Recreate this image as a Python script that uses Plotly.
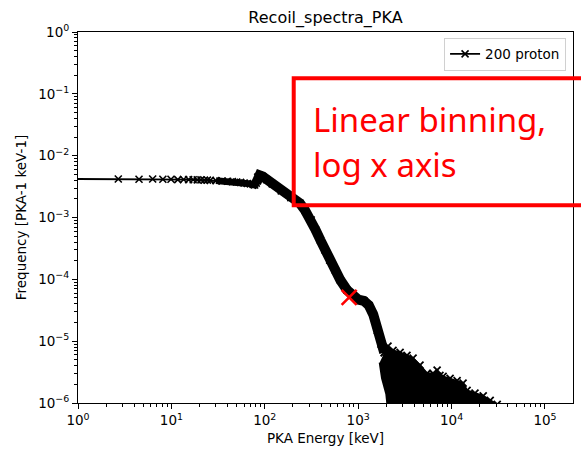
import plotly.graph_objects as go

# --- PKA recoil spectrum, 200 proton run (linear energy bins, 1.8 keV wide) ---
# Low-energy bins: individual bin centres are resolved on the log axis
low_energy_kev = [0.9, 2.7, 4.5, 6.3, 8.1, 9.9, 11.7, 13.5, 15.3, 17.1, 18.9,
                  20.7, 22.5, 24.3, 26.1]
low_freq = [4.2e-3, 4.2e-3, 4.15e-3, 4.2e-3, 4.15e-3, 4.15e-3, 4.1e-3, 4.12e-3,
            4.1e-3, 4.08e-3, 4.05e-3, 4.05e-3, 4.0e-3, 4.02e-3, 3.98e-3]

# Higher-energy bins: densely packed on the log axis, so they merge into a band
dense_energy_kev = [30, 35, 40, 45, 50, 55, 60, 65, 70, 75, 78, 81, 84, 88, 95,
                    105, 120, 150, 190, 238, 270, 314, 350, 394, 440, 495, 570,
                    645, 760, 850, 1000, 1150, 1300, 1450, 1600, 1750, 1900]
dense_freq = [3.95e-3, 3.9e-3, 3.85e-3, 3.8e-3, 3.75e-3, 3.7e-3, 3.62e-3, 3.55e-3,
              3.5e-3, 3.42e-3, 3.35e-3, 3.6e-3, 4.5e-3, 4.8e-3, 4.6e-3, 4.1e-3,
              3.5e-3, 2.7e-3, 2.1e-3, 1.7e-3, 1.3e-3, 9.1e-4, 6.3e-4, 4.3e-4,
              3.0e-4, 2.04e-4, 1.4e-4, 9.7e-5, 6.7e-5, 5.5e-5, 4.7e-5, 4.5e-5,
              3.8e-5, 2.7e-5, 1.5e-5, 9e-6, 6.5e-6]

# Statistical tail: upper envelope of the noisy bins (many bins are empty)
tail_energy_kev = [1900, 2085, 2360, 2810, 3330, 3870, 4590, 5460, 6330, 7000,
                   7500, 8110, 9640, 11460, 13280, 14650, 17800, 21800, 25900, 30800]
tail_upper = [6.5e-6, 8.3e-6, 7.1e-6, 6.6e-6, 5.9e-6, 5.3e-6, 4.1e-6, 3.0e-6,
              3.0e-6, 3.4e-6, 2.8e-6, 2.7e-6, 2.5e-6, 2.3e-6, 2.1e-6, 1.6e-6,
              1.45e-6, 1.3e-6, 1.1e-6, 0.95e-6]
# lower edge of the tail, where bins start dropping to zero counts
tail_lower_kev = [30800, 2400, 2000, 1800, 1700]
tail_lower = [1e-7, 1e-7, 1.4e-6, 2.5e-6, 4.5e-6]

# Highlighted bin
highlight_kev = [800]
highlight_freq = [5.1e-5]

series_name = "200 proton"

x_tickvals = [1, 10, 100, 1e3, 1e4, 1e5]
x_ticktext = ["10<sup>0</sup>", "10<sup>1</sup>", "10<sup>2</sup>",
              "10<sup>3</sup>", "10<sup>4</sup>", "10<sup>5</sup>"]
y_tickvals = [1e-6, 1e-5, 1e-4, 1e-3, 1e-2, 1e-1, 1]
y_ticktext = ["10<sup>\u22126</sup>", "10<sup>\u22125</sup>", "10<sup>\u22124</sup>",
              "10<sup>\u22123</sup>", "10<sup>\u22122</sup>", "10<sup>\u22121</sup>",
              "10<sup>0</sup>"]

x_minor = [m * 10 ** e for e in range(0, 6) for m in range(2, 10)]
y_minor = [m * 10.0 ** e for e in range(-6, 0) for m in range(2, 10)]

FONT = "DejaVu Sans"

fig = go.Figure()

# overplotted markers of the dense bins, rendered as a band:
# narrower on the flat plateau, wider where the spectrum falls steeply
split = 12
fig.add_trace(go.Scatter(
    x=dense_energy_kev[:split + 1], y=dense_freq[:split + 1], mode="lines",
    line=dict(color="black", width=7), showlegend=False, hoverinfo="skip"))
fig.add_trace(go.Scatter(
    x=dense_energy_kev[split - 1:], y=dense_freq[split - 1:], mode="lines",
    line=dict(color="black", width=10), showlegend=False, hoverinfo="skip"))

# noisy tail filled down to the empty bins
fig.add_trace(go.Scatter(
    x=tail_energy_kev + tail_lower_kev, y=tail_upper + tail_lower,
    mode="lines", fill="toself", fillcolor="black",
    line=dict(color="black", width=2), showlegend=False, hoverinfo="skip"))
fig.add_trace(go.Scatter(
    x=tail_energy_kev, y=tail_upper, mode="markers",
    marker=dict(symbol="x-thin", size=7, line=dict(color="black", width=1.8)),
    showlegend=False, hoverinfo="skip"))

# the spectrum itself
fig.add_trace(go.Scatter(
    x=low_energy_kev + dense_energy_kev, y=low_freq + dense_freq,
    mode="lines+markers", name=series_name,
    line=dict(color="black", width=1.8),
    marker=dict(symbol="x-thin", size=7, color="black",
                line=dict(color="black", width=1.6))))

# highlighted bin
fig.add_trace(go.Scatter(
    x=highlight_kev, y=highlight_freq, mode="markers", showlegend=False,
    marker=dict(symbol="x-thin", size=15, line=dict(color="#ff0000", width=2.6))))

axis_common = dict(
    type="log", showgrid=False, zeroline=False,
    showline=True, linecolor="black", linewidth=1.1, mirror=True,
    ticks="outside", ticklen=5, tickwidth=1.1, tickcolor="black",
    tickfont=dict(family=FONT, size=13.5, color="black"),
)

fig.update_xaxes(
    **axis_common, range=[0, 5.3],
    tickmode="array", tickvals=x_tickvals, ticktext=x_ticktext,
    minor=dict(tickmode="array", tickvals=x_minor, ticks="outside", ticklen=3,
               tickwidth=0.8, tickcolor="black", showgrid=False),
    title=dict(text="PKA Energy [keV]", font=dict(family=FONT, size=13.5, color="black"),
               standoff=6),
)
fig.update_yaxes(
    **axis_common, range=[-6, 0],
    tickmode="array", tickvals=y_tickvals, ticktext=y_ticktext,
    minor=dict(tickmode="array", tickvals=y_minor, ticks="outside", ticklen=3,
               tickwidth=0.8, tickcolor="black", showgrid=False),
    title=dict(text="Frequency [PKA-1 keV-1]",
               font=dict(family=FONT, size=13.5, color="black"), standoff=8),
)

fig.update_layout(
    width=581, height=452,
    margin=dict(l=78, r=8, t=32, b=49),
    paper_bgcolor="white", plot_bgcolor="white",
    title=dict(text="Recoil_spectra_PKA", x=0.5, xref="paper", xanchor="center",
               y=0.961, yref="container", yanchor="middle",
               font=dict(family=FONT, size=16, color="black")),
    legend=dict(x=0.986, y=0.985, xanchor="right", yanchor="top",
                bgcolor="white", bordercolor="#d0d0d0", borderwidth=1,
                font=dict(family=FONT, size=13.5, color="black"),
                itemwidth=30, tracegroupgap=0),
    shapes=[dict(type="rect", xref="paper", yref="paper",
                 x0=0.4358, x1=1.06, y0=0.5329, y1=0.8752,
                 line=dict(color="#ff0000", width=4), layer="above")],
    annotations=[
        dict(text="Linear binning,", xref="paper", yref="paper",
             x=0.470, y=0.765, xanchor="left", yanchor="middle", showarrow=False,
             font=dict(family="Noto Sans", size=33, color="#ff0000")),
        dict(text="log x axis", xref="paper", yref="paper",
             x=0.470, y=0.642, xanchor="left", yanchor="middle", showarrow=False,
             font=dict(family="Noto Sans", size=33, color="#ff0000")),
    ],
)

fig.write_html("out.html")
